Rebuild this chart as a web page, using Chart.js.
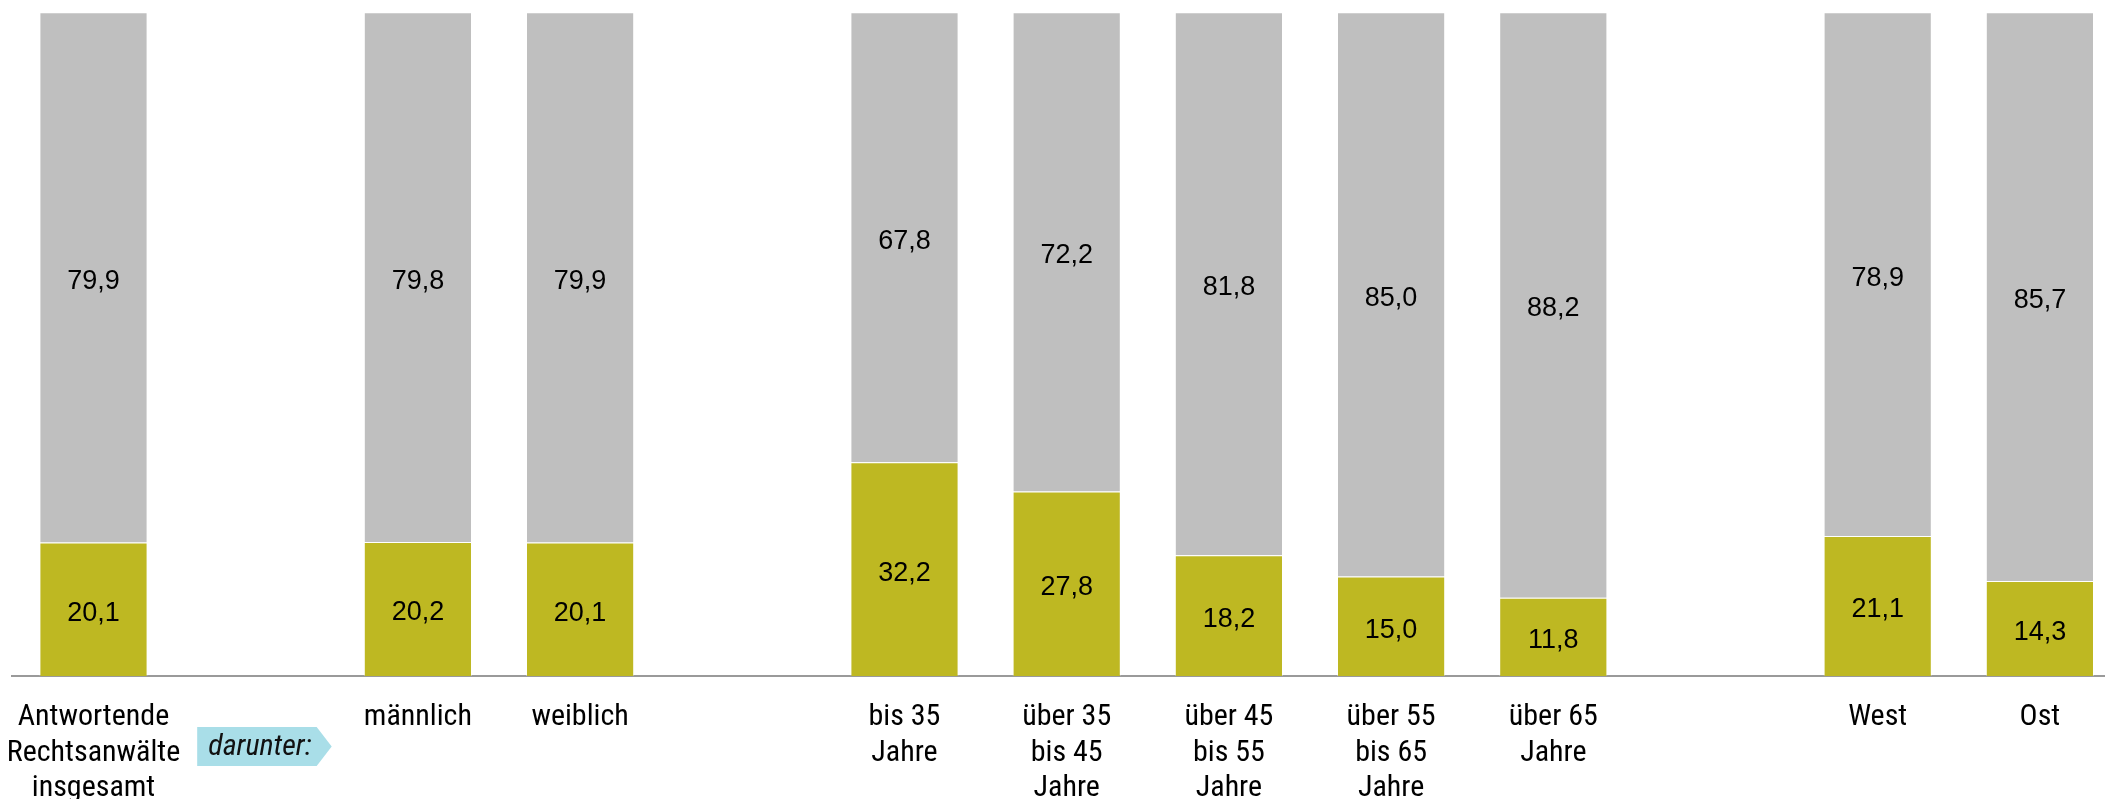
<!DOCTYPE html>
<html>
<head>
<meta charset="utf-8">
<script src="https://cdn.jsdelivr.net/npm/chart.js@4"></script>
<style>
  html, body { margin: 0; padding: 0; background: #fff; overflow: hidden; }
  #wrap { width: 2124px; height: 799px; }
</style>
</head>
<body>
<div id="wrap"><canvas id="c" width="2124" height="799"></canvas></div>
<script>
const categories = [
  ["Antwortende", "Rechtsanwälte", "insgesamt"],
  "",
  "männlich",
  "weiblich",
  "",
  ["bis 35", "Jahre"],
  ["über 35", "bis 45", "Jahre"],
  ["über 45", "bis 55", "Jahre"],
  ["über 55", "bis 65", "Jahre"],
  ["über 65", "Jahre"],
  "",
  "West",
  "Ost"
];
const lowerValues = [20.1, null, 20.2, 20.1, null, 32.2, 27.8, 18.2, 15.0, 11.8, null, 21.1, 14.3];
const upperValues = [79.9, null, 79.8, 79.9, null, 67.8, 72.2, 81.8, 85.0, 88.2, null, 78.9, 85.7];
const dividerText = "darunter:";

const NARROW = '"Liberation Sans Narrow", "Arial Narrow", "Roboto Condensed", "DejaVu Sans Condensed", sans-serif';

const valueLabels = {
  id: 'valueLabels',
  afterDatasetsDraw(chart) {
    const ctx = chart.ctx;
    ctx.save();
    ctx.font = '27px "Liberation Sans", Arial, sans-serif';
    ctx.fillStyle = '#000';
    ctx.textAlign = 'center';
    ctx.textBaseline = 'middle';
    chart.data.datasets.forEach((ds, di) => {
      const meta = chart.getDatasetMeta(di);
      meta.data.forEach((bar, i) => {
        const v = ds.data[i];
        if (v === null || v === undefined) return;
        const top = Math.min(bar.y, bar.base);
        const bot = Math.max(bar.y, bar.base);
        ctx.fillText(v.toFixed(1).replace('.', ','), bar.x, (top + bot) / 2 + 4);
      });
    });
    ctx.restore();
  }
};

const dividerBadge = {
  id: 'dividerBadge',
  afterDraw(chart) {
    const ctx = chart.ctx;
    const xs = chart.scales.x;
    const cx = xs.getPixelForValue(1);
    const left = cx - 58.5, bodyRight = cx + 61, tip = cx + 76;
    const top = 727, bottom = 766, mid = (top + bottom) / 2;
    ctx.save();
    ctx.fillStyle = '#A9DEE8';
    ctx.beginPath();
    ctx.moveTo(left, top);
    ctx.lineTo(bodyRight, top);
    ctx.lineTo(tip, mid);
    ctx.lineTo(bodyRight, bottom);
    ctx.lineTo(left, bottom);
    ctx.closePath();
    ctx.fill();
    ctx.fillStyle = '#111';
    ctx.font = 'italic 30px ' + NARROW;
    ctx.textAlign = 'left';
    ctx.textBaseline = 'middle';
    ctx.fillText(dividerText, left + 11, mid + 1);
    ctx.restore();
  }
};

new Chart(document.getElementById('c'), {
  type: 'bar',
  data: {
    labels: categories,
    datasets: [
      {
        label: 'lower',
        data: lowerValues,
        backgroundColor: '#BEB822',
        borderColor: 'rgba(255,255,255,0.35)',
        borderWidth: 1,
        borderSkipped: 'bottom',
        categoryPercentage: 1,
        barPercentage: 0.667
      },
      {
        label: 'upper',
        data: upperValues,
        backgroundColor: '#BFBFBF',
        borderColor: 'rgba(255,255,255,0.35)',
        borderWidth: 1,
        borderSkipped: 'bottom',
        categoryPercentage: 1,
        barPercentage: 0.667
      }
    ]
  },
  options: {
    responsive: false,
    animation: false,
    devicePixelRatio: 1,
    layout: { padding: { left: 12.4, right: 3, top: 12.3, bottom: 0 } },
    plugins: { legend: { display: false }, tooltip: { enabled: false } },
    scales: {
      x: {
        stacked: true,
        offset: true,
        grid: { display: false, drawTicks: false },
        border: { display: true, color: '#9A9A9A', width: 2 },
        ticks: {
          color: '#000',
          font: { family: NARROW, size: 30, lineHeight: 1.183 },
          padding: 24,
          maxRotation: 0,
          minRotation: 0,
          autoSkip: false
        },
        afterFit(scale) {
          scale.height = 123;
          scale.paddingLeft = 0;
          scale.paddingRight = 0;
        }
      },
      y: {
        stacked: true,
        display: false,
        min: 0,
        max: 100
      }
    }
  },
  plugins: [valueLabels, dividerBadge]
});
</script>
</body>
</html>
